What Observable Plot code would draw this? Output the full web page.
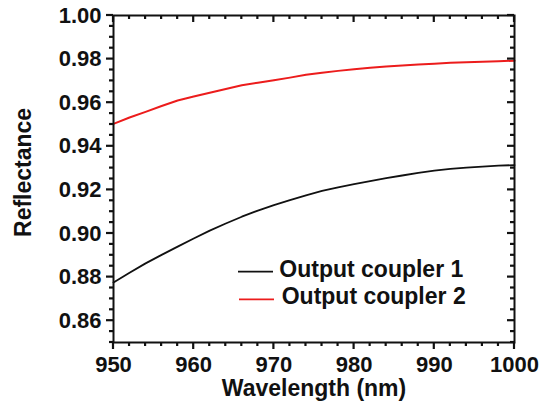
<!DOCTYPE html>
<html><head><meta charset="utf-8">
<script src="https://cdn.jsdelivr.net/npm/d3@7"></script>
<script src="https://cdn.jsdelivr.net/npm/@observablehq/plot@0.6"></script>
<style>body{margin:0;background:#fff}</style>
</head><body><div id="chart"></div>
<script>
const wavelength = [950,952,954,956,958,960,962,964,966,968,970,972,974,976,978,980,982,984,986,988,990,992,994,996,998,1000];
const coupler1 = [0.8775,0.8820,0.8863,0.8902,0.8940,0.8977,0.9013,0.9046,0.9077,0.9105,0.9130,0.9153,0.9175,0.9195,0.9212,0.9226,0.9240,0.9254,0.9266,0.9278,0.9288,0.9296,0.9302,0.9307,0.9311,0.9314];
const coupler2 = [0.9503,0.9532,0.9558,0.9585,0.9610,0.9628,0.9646,0.9663,0.9680,0.9692,0.9703,0.9715,0.9728,0.9737,0.9746,0.9753,0.9760,0.9766,0.9771,0.9775,0.9779,0.9783,0.9786,0.9788,0.9790,0.9793];
const seriesNames = ["Output coupler 1", "Output coupler 2"];
const seriesColors = ["#111111", "#ec1c1c"];
const xTicks = [950, 960, 970, 980, 990, 1000];
const yTicks = [0.86, 0.88, 0.90, 0.92, 0.94, 0.96, 0.98, 1.00];
const xMinor = d3.range(950, 1001, 2);
const yMinor = d3.range(0, 31).map(i => +(0.85 + i * 0.005).toFixed(3));
const xLabel = "Wavelength (nm)";
const yLabel = "Reflectance";

const rows1 = wavelength.map((w, i) => ({w, r: coupler1[i]}));
const rows2 = wavelength.map((w, i) => ({w, r: coupler2[i]}));

const FONT = "'Liberation Sans', Arial, Helvetica, sans-serif";
const TW = 2.2;

// tick marks on all four sides, positioned through Plot's own scales
function tickMarks(index, scales, values, dims) {
  const g = d3.create("svg:g").attr("stroke", "#111").attr("stroke-width", TW).attr("fill", "none");
  const L = dims.marginLeft, R = dims.width - dims.marginRight;
  const T = dims.marginTop, B = dims.height - dims.marginBottom;
  const add = (x1, y1, x2, y2) => g.append("line").attr("x1", x1).attr("y1", y1).attr("x2", x2).attr("y2", y2);
  const isMajorY = (v) => yTicks.some(t => Math.abs(t - v) < 1e-6);
  const isMajorX = (v) => xTicks.some(t => Math.abs(t - v) < 1e-6);
  yMinor.forEach(v => {
    const y = scales.y(v), len = isMajorY(v) ? 7 : 4;
    add(L - len, y, L, y);      // left, outward
    add(R, y, R - len, y);      // right, inward
  });
  xMinor.forEach(v => {
    const x = scales.x(v), len = isMajorX(v) ? 7 : 4;
    add(x, B, x, B + len);      // bottom, outward
    add(x, T, x, T + len);      // top, inward
  });
  return g.node();
}

function legend(index, scales, values, dims) {
  const g = d3.create("svg:g");
  const L = dims.marginLeft, T = dims.marginTop;
  const pos = [
    {x1: 125, x2: 160, y: 256.7, tx: 166.3, ty: 261.7},
    {x1: 126, x2: 161, y: 284.3, tx: 168.7, ty: 289.3}
  ];
  seriesNames.forEach((name, i) => {
    const p = pos[i];
    g.append("line").attr("x1", L + p.x1).attr("x2", L + p.x2)
      .attr("y1", T + p.y).attr("y2", T + p.y)
      .attr("stroke", seriesColors[i]).attr("stroke-width", 1.8);
    g.append("text").attr("x", L + p.tx).attr("y", T + p.ty)
      .attr("text-anchor", "start")
      .attr("font-family", FONT).attr("font-size", 23).attr("font-weight", "bold")
      .attr("fill", "#111").text(name);
  });
  return g.node();
}

const chart = Plot.plot({
  width: 542,
  height: 406,
  marginLeft: 113,
  marginRight: 28,
  marginTop: 15,
  marginBottom: 64,
  style: {fontFamily: FONT, fontSize: "22px", fontWeight: "bold", background: "#fff", color: "#111"},
  x: {domain: [950, 1000]},
  y: {domain: [0.85, 1.0]},
  marks: [
    Plot.line(rows1, {x: "w", y: "r", stroke: seriesColors[0], strokeWidth: 1.8}),
    Plot.line(rows2, {x: "w", y: "r", stroke: seriesColors[1], strokeWidth: 2}),
    tickMarks,
    Plot.axisY({anchor: "left", ticks: yTicks, tickSize: 0, tickPadding: 12, tickFormat: d3.format(".2f"), label: null, fontSize: 22, fontWeight: "bold"}),
    Plot.axisX({anchor: "bottom", ticks: xTicks, tickSize: 0, tickPadding: 14, tickFormat: d3.format("d"), label: null, fontSize: 22, fontWeight: "bold"}),
    Plot.frame({stroke: "#111", strokeWidth: 2}),
    Plot.text([xLabel], {text: d => d, frameAnchor: "bottom", dy: 46, lineAnchor: "middle", textAnchor: "middle", fontSize: 23, fontWeight: "bold", fill: "#111"}),
    Plot.text([yLabel], {text: d => d, frameAnchor: "left", rotate: -90, dx: -89.5, dy: -6.6, lineAnchor: "middle", textAnchor: "middle", fontSize: 23, fontWeight: "bold", fill: "#111"}),
    legend
  ]
});
document.getElementById("chart").appendChild(chart);
</script>
</body></html>
